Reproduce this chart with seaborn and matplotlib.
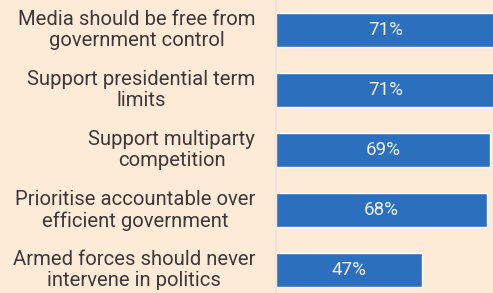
import matplotlib
matplotlib.use("Agg")
import matplotlib.pyplot as plt
import seaborn as sns
import pandas as pd

# ── data ───────────────────────────────────────────────────────────────────────
statements = [
    "Media should be free from\ngovernment control",
    "Support presidential term\nlimits",
    "Support multiparty\ncompetition",
    "Prioritise accountable over\nefficient government",
    "Armed forces should never\nintervene in politics",
]
support_pct = [71, 71, 69, 68, 47]

# ── style ──────────────────────────────────────────────────────────────────────
BG = "#fdebd8"
BAR = "#2b6fbe"
TEXT = "#3a3a3a"

sns.set_style("white")
plt.rcParams["font.family"] = ["Roboto", "DejaVu Sans"]

df = pd.DataFrame({"statement": statements, "pct": support_pct})

fig = plt.figure(figsize=(4.93, 2.93), dpi=100, facecolor=BG)
ax = fig.add_axes([276 / 493, 0, 1 - 276 / 493, 1])
ax.set_facecolor(BG)

sns.barplot(data=df, x="pct", y="statement", orient="h", color=BAR,
            saturation=1, width=0.56, ax=ax)

for bar, v in zip(ax.patches, support_pct):
    ax.text(v / 2, bar.get_y() + bar.get_height() / 2, f"{v}%",
            ha="center", va="center", color="#f0f0f0", fontsize=13.5)

ax.set_xlim(0, 69.9)
ax.set_ylim(4.38, -0.5)
ax.set_xlabel("")
ax.set_ylabel("")
ax.set_xticks([])
ax.set_yticks(range(len(statements)))
ax.set_yticklabels(statements, fontsize=14.6, color=TEXT, ha="right",
                   va="center", multialignment="center", linespacing=1.17)
ax.tick_params(axis="y", length=0, pad=15)

for side in ("top", "right", "bottom"):
    ax.spines[side].set_visible(False)
ax.spines["left"].set_color("#ece3da")
ax.spines["left"].set_linewidth(1.2)

fig.savefig("out.png", dpi=100, facecolor=BG)
